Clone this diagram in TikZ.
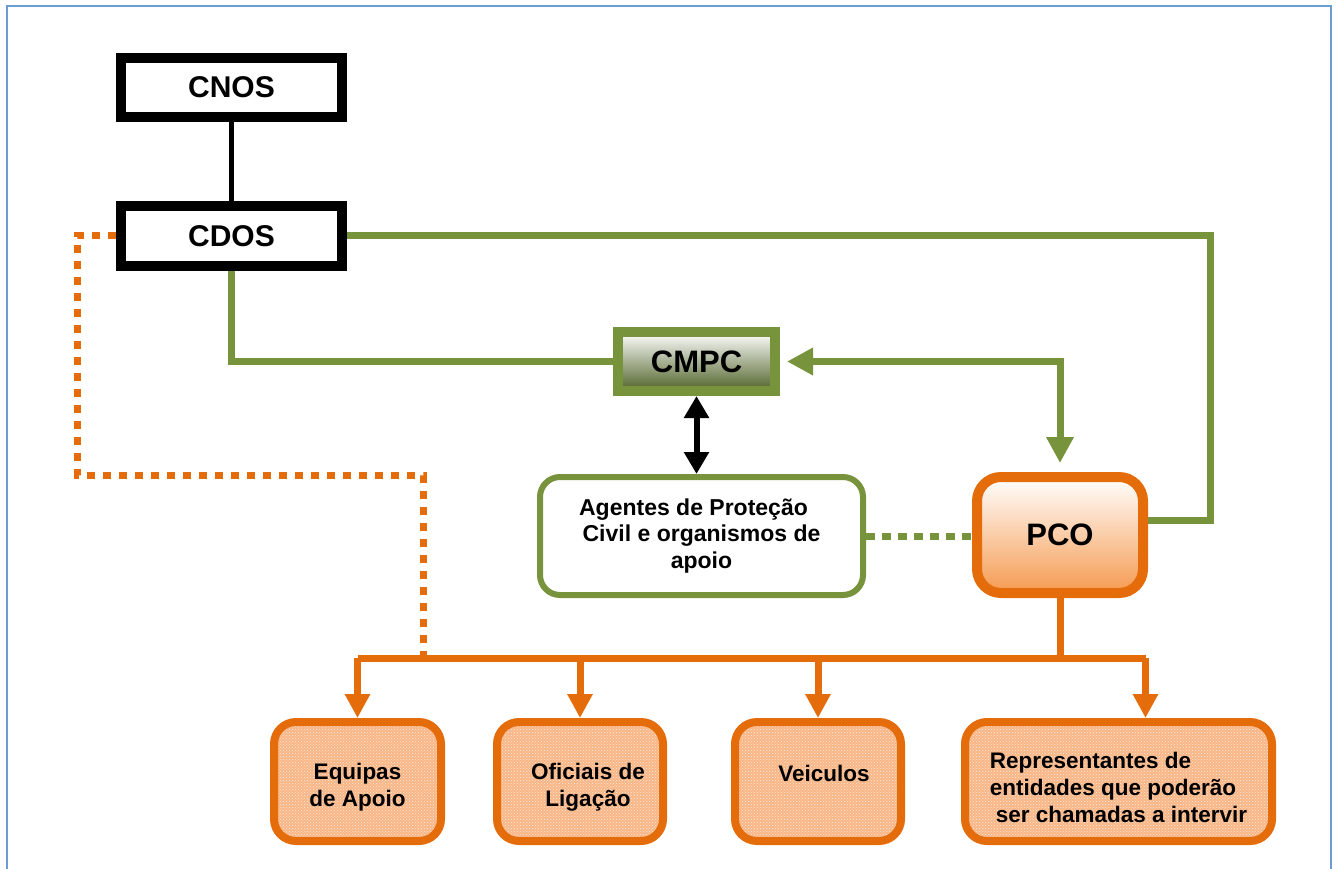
\documentclass[tikz,border=0pt]{standalone}
\usepackage{fontspec}
\setmainfont{Liberation Sans}
\usetikzlibrary{arrows.meta,patterns}
\definecolor{cogreen}{HTML}{77933C}
\definecolor{codark}{HTML}{4F6228}
\definecolor{coorange}{HTML}{E46C0A}
\definecolor{copeach}{HTML}{F8B686}
\definecolor{copco}{HTML}{F59A50}
\definecolor{coframe}{HTML}{6E9BD1}

\begin{document}
\begin{tikzpicture}[x=1pt, y=-1pt,
    box/.style={draw, line width=10pt, minimum width=221pt, minimum height=59pt,
      font=\fontsize{30}{36}\selectfont\bfseries},
    gline/.style={cogreen, line width=7pt},
    oline/.style={coorange, line width=7pt},
    tip/.style={-{Triangle[width=#1,length=#1]}},
    sub/.style={draw=coorange, line width=8pt, rounded corners=22pt, minimum height=119pt,
      preaction={fill=copeach}, pattern=crosshatch dots, pattern color=white!70!copeach},
    subtext/.style={font=\fontsize{22.5}{27}\selectfont\bfseries, align=center, inner sep=0pt}]
  \useasboundingbox (0,0) rectangle (1336,869);
  \draw[coframe, line width=2pt] (7,6) rectangle (1331,900);

  % command chain
  \node[box] (cnos) at (231.5,87.5) {CNOS};
  \node[box] (cdos) at (231.5,236) {CDOS};
  \node[box, draw=cogreen, minimum width=157pt, font=\fontsize{31}{36}\selectfont\bfseries,
    top color=white, middle color=white!80!codark, bottom color=codark] (cmpc) at (696.5,361.5)
    {\raisebox{-4pt}{CMPC}};
  \node[draw=cogreen, line width=6pt, rounded corners=20pt, minimum width=323pt,
    minimum height=118pt, fill=white, align=center,
    font=\fontsize{23}{26.5}\selectfont\bfseries] (agentes) at (701.5,536)
    {Agentes de Proteção\hspace*{16pt}\\Civil e organismos de\hspace*{16pt}\\apoio};
  \node[draw=coorange, line width=10pt, rounded corners=24pt, minimum width=166pt,
    minimum height=116pt, top color=white, bottom color=copco,
    font=\fontsize{31}{36}\selectfont\bfseries] (pco) at (1060,535) {PCO};

  % bottom row
  \foreach \n/\x/\w/\y/\t in {equipas/357.5/167/787/{Equipas\\de Apoio},
      oficiais/580/166/787/{\hspace*{16pt}Oficiais de\\\hspace*{16pt}Ligação},
      veiculos/818/166/773/{\hspace*{12pt}Veiculos}} {
    \node[sub, minimum width=\w pt] (\n) at (\x,781.5) {};
    \node[subtext] (\n txt) at (\x,\y) {\t};
  }
  \node[sub, minimum width=307pt] (repres) at (1118.5,781.5) {};
  \node[subtext, align=left] (repres txt) at (1118.5,787)
    {Representantes de\\entidades que poderão\\\hspace*{6pt}ser chamadas a intervir};

  \coordinate (gx) at (1210,0);
  \coordinate (busy) at (0,658);
  \coordinate (bend) at (77,475);
  \coordinate (tap) at (423,658);

  \draw[line width=5pt] (cnos.south) -- (cdos.north);
  \draw[gline] (cdos.east) -- (cdos.east -| gx) |- ([yshift=15pt]pco.east);
  \draw[gline] (cdos.south) |- (cmpc.west);
  \draw[gline, {Triangle[width=26pt,length=26pt]}-{Triangle[width=26pt,length=26pt]}]
    ([xshift=7pt]cmpc.east) -| ([yshift=9pt]pco.north);
  \draw[line width=6pt, {Triangle[width=24pt,length=22pt]}-{Triangle[width=24pt,length=22pt]}]
    (cmpc.south) -- (cmpc.south |- agentes.north);
  \draw[gline, dash pattern=on 9pt off 7pt] (agentes.east) -- (agentes.east -| pco.west);

  \draw[oline] (pco.south) -- (pco.south |- busy);
  \draw[oline] (equipas.north |- busy) -- ([xshift=27pt]repres.north |- busy);
  \foreach \b in {equipas,oficiais,veiculos}
    \draw[oline, tip=24pt] (\b.north |- busy) -- (\b.north);
  \draw[oline, tip=24pt] ([xshift=27pt]repres.north |- busy) -- ([xshift=27pt]repres.north);
  \draw[oline, dash pattern=on 8pt off 8pt] (cdos.west) -| (bend) -| (tap);
\end{tikzpicture}
\end{document}
